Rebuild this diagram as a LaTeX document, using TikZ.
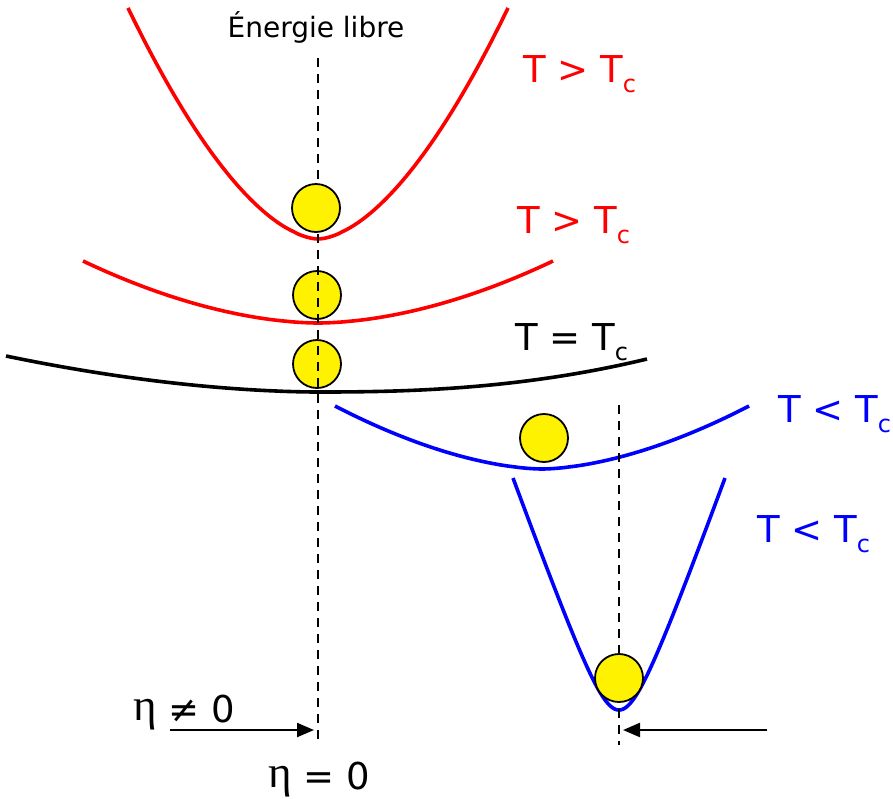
\documentclass[tikz,border=0pt]{standalone}
\usepackage{fontspec}
\setmainfont{DejaVu Sans}
\newfontfamily\etafont{Liberation Serif}
\usetikzlibrary{arrows.meta}
\newcommand\subc{\raisebox{-10pt}{\fontsize{24}{24}\selectfont c}}
\newcommand\etabig{\raisebox{2pt}{\etafont\fontsize{45}{50}\selectfont η}}
\begin{document}
\begin{tikzpicture}[x=1pt,y=-1pt,
  curve/.style={line width=3.6pt},
  ball/.style={circle, draw=black, line width=1.8pt, fill=yellow, minimum size=48pt, inner sep=0pt},
  guide/.style={line width=2.3pt, dash pattern=on 9pt off 7pt},
  lbl/.style={anchor=base west, inner sep=0pt, font=\fontsize{37}{40}\selectfont},
  arr/.style={line width=2.2pt, -{Triangle[length=17pt,width=14pt]}}]
\useasboundingbox (0,0) rectangle (893,798);

% curves
\draw[curve, red] plot[domain=-190:190, samples=120] ({318+\x},{239-231*pow((abs(\x)+0.01)/190,1.7)});
\draw[curve, red] plot[domain=-235:235, samples=120] ({318+\x},{323-62*pow((abs(\x)+0.01)/235,1.8)});
\draw[curve, black] plot[domain=-312:0, samples=60] ({318+\x},{392-36*pow((abs(\x)+0.01)/312,1.8)})
   -- plot[domain=0:329, samples=60] ({318+\x},{392-33*pow((\x+0.01)/329,2.4)});
\draw[curve, blue] plot[domain=-207:207, samples=120] ({542+\x},{469-63*pow((abs(\x)+0.01)/207,1.7)});
\draw[curve, blue] plot[domain=-106:106, samples=140] ({619+\x},{710-2.765*(sqrt(\x*\x+625)-25)});

% balls under the guide line
\node[ball] (b2) at (317,295) {};
\node[ball] (b3) at (317,364) {};

% guide lines
\coordinate (g1t) at (318,58);
\coordinate (g1b) at (318,740);
\coordinate (g2t) at (619,405);
\coordinate (g2b) at (619,745);
\draw[guide] (g1t) -- (g1b);
\draw[guide] (g2t) -- (g2b);

% balls over the guide line
\node[ball] (b1) at (316,208) {};
\node[ball] (b4) at (544,438) {};
\node[ball] (b5) at (619,678) {};

% labels
\node[anchor=base, inner sep=0pt, font=\fontsize{28}{30}\selectfont] (title) at (316,37) {Énergie libre};
\node[lbl, red] (l1) at (523,82) {T > T\subc};
\node[lbl, red] (l2) at (517,233) {T > T\subc};
\node[lbl, black] (l3) at (515,350) {T = T\subc};
\node[lbl, blue] (l4) at (778,422) {T < T\subc};
\node[lbl, blue] (l5) at (757,542) {T < T\subc};
\node[lbl] (e1) at (133,722) {\etabig{} ≠ 0};
\node[lbl] (e2) at (268,789) {\etabig{} = 0};

% arrows
\coordinate (a1s) at (170,730);
\coordinate (a1e) at (314,730);
\coordinate (a2s) at (767,730);
\coordinate (a2e) at (623,730);
\draw[arr] (a1s) -- (a1e);
\draw[arr] (a2s) -- (a2e);
\end{tikzpicture}
\end{document}
